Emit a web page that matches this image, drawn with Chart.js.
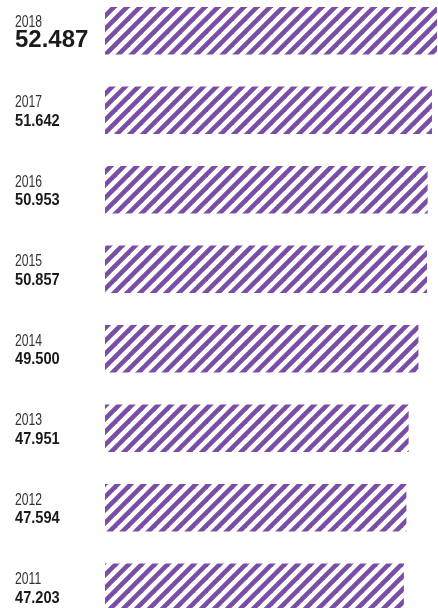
<!DOCTYPE html>
<html>
<head>
<meta charset="utf-8">
<script src="https://cdn.jsdelivr.net/npm/chart.js@4/dist/chart.umd.min.js"></script>
<style>
  html, body { margin: 0; padding: 0; background: #fff; overflow: hidden; }
  body { width: 438px; height: 608px; position: relative; }
  #wrap { position: absolute; left: 0; top: -9px; width: 438px; height: 636px; }
</style>
</head>
<body>
<div id="wrap"><canvas id="myChart"></canvas></div>
<script>
var years = ['2018', '2017', '2016', '2015', '2014', '2013', '2012', '2011'];
var values = [52.487, 51.642, 50.953, 50.857, 49.500, 47.951, 47.594, 47.203];
var valueLabels = ['52.487', '51.642', '50.953', '50.857', '49.500', '47.951', '47.594', '47.203'];

var PURPLE = '#7b4ea6';
var FONT = '"Liberation Sans", Arial, sans-serif';

// diagonal stripes, going up to the right
function stripes() {
  var p = 13;
  var c = document.createElement('canvas');
  c.width = p; c.height = p;
  var ctx = c.getContext('2d');
  ctx.fillStyle = '#fff';
  ctx.fillRect(0, 0, p, p);
  ctx.strokeStyle = PURPLE;
  ctx.lineWidth = 4.6;
  for (var k = -1; k <= 1; k++) {
    ctx.beginPath();
    ctx.moveTo(k * p - 4, p + 4);
    ctx.lineTo(k * p + p + 4, -4);
    ctx.stroke();
  }
  return ctx.createPattern(c, 'repeat');
}

// condensed text: squeeze a normal font sideways
function drawText(ctx, txt, x, y, font, sx, color) {
  ctx.save();
  ctx.font = font;
  ctx.fillStyle = color;
  ctx.translate(x, y);
  ctx.scale(sx, 1);
  ctx.fillText(txt, 0, 0);
  ctx.restore();
}

var labelPlugin = {
  id: 'labels',
  afterDatasetsDraw: function(chart) {
    var ctx = chart.ctx;
    var y = chart.scales.y;
    ctx.save();
    ctx.textAlign = 'left';
    ctx.textBaseline = 'alphabetic';
    for (var i = 0; i < years.length; i++) {
      var cy = y.getPixelForValue(i);
      if (i == 0) {
        drawText(ctx, years[i], 15, cy - 3.5, '16px ' + FONT, 0.76, '#333');
        drawText(ctx, valueLabels[i], 15, cy + 16.5, 'bold 24px ' + FONT, 1.0, '#1a1a1a');
      } else {
        drawText(ctx, years[i], 15, cy - 3, '16px ' + FONT, 0.76, '#333');
        drawText(ctx, valueLabels[i], 15, cy + 15.5, 'bold 17px ' + FONT, 0.86, '#1a1a1a');
      }
    }
    ctx.restore();
  }
};

new Chart('myChart', {
  type: 'bar',
  data: {
    labels: years,
    datasets: [{
      data: values,
      backgroundColor: stripes(),
      borderWidth: 0,
      barThickness: 47
    }]
  },
  options: {
    indexAxis: 'y',
    responsive: true,
    maintainAspectRatio: false,
    animation: false,
    layout: { padding: { left: 105, right: 1, top: 0, bottom: 0 } },
    plugins: { legend: { display: false }, tooltip: { enabled: false } },
    scales: {
      x: { display: false, min: 0, max: 52.487 },
      y: { display: false }
    }
  },
  plugins: [labelPlugin]
});
</script>
</body>
</html>
